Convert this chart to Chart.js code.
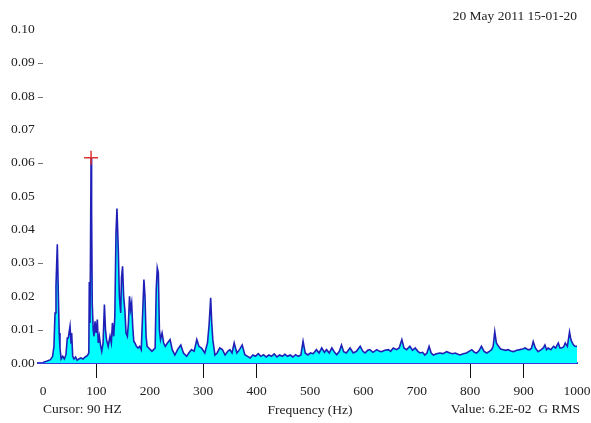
<!DOCTYPE html>
<html>
<head>
<meta charset="utf-8">
<script src="https://cdn.jsdelivr.net/npm/chart.js@4.4.1/dist/chart.umd.min.js"></script>
<style>
  html, body { margin: 0; padding: 0; background: #ffffff; }
  #wrap { width: 591px; height: 423px; position: relative; }
</style>
</head>
<body>
<div id="wrap"><canvas id="c" width="591" height="423"></canvas></div>
<script>
// ---- data ----
const freqHz = [0,8,14,18,20.5,22.5,24.3,26.8,28.7,30.3,31.8,34,37,40,43,45.5,47.4,50.6,52.5,53.7,55.6,58,61,64,67,71,75,79,83,85.8,86.7,88,89,90,91,92.2,94,95.5,97.4,99.5,101.7,103.5,105.5,108,110,112.5,115,117,119,122,125.5,128,130,132.5,134.5,136.7,138.5,141,143,145.5,147,149,151,153.5,155.5,158,160,162,164,166,168,170,172,175,178,181,184,187,189,191,193,195,198,201,204,207,210,212,214,216,218,220,223,226,229,233,238,242,247,252,258,263,269,273,278,283,288,292,297,303,308,311,314,316,318,322,326,331,336,341,346,350,354,358,363,368,373,378,383,388,393,398,403,408,413,418,423,428,433,438,443,448,453,458,463,468,473,478,483,487,491,496,501,506,512,517,522,527,531,536,541,546,550,555,559,563,568,575,581,587,594,599,603,608,612,618,625,630,634,640,647,651,656,662,667,672,676,681,687,692,697,702,706,711,715,719,723,727,731,737,743,749,756,762,767,772,777,781,787,793,798,803,808,812,817,821,826,831,836,840,843,846,849,853,857,862,866,871,876,881,887,893,898,903,908,912,915,918,922,927,933,937,940,943,946,951,956,960,965,968,971,975,978,982,986,988,990,993,996,1000];
const amplitudeG = [0.0002,0.0006,0.001,0.002,0.005,0.015,0.023,0.0356,0.021,0.009,0.0045,0.0012,0.002,0.0012,0.0025,0.0075,0.0075,0.011,0.006,0.009,0.002,0.0012,0.0018,0.0008,0.0012,0.0015,0.0012,0.0018,0.0022,0.003,0.0243,0.012,0.035,0.0615,0.046,0.018,0.010,0.008,0.0125,0.009,0.013,0.006,0.008,0.005,0.0035,0.006,0.0175,0.01,0.007,0.005,0.008,0.006,0.012,0.008,0.014,0.039,0.0463,0.034,0.02,0.015,0.0255,0.029,0.02,0.0154,0.009,0.008,0.012,0.020,0.016,0.018,0.011,0.0065,0.006,0.005,0.0045,0.005,0.004,0.0165,0.025,0.02,0.008,0.005,0.0045,0.004,0.0035,0.004,0.0045,0.022,0.0285,0.027,0.01,0.007,0.009,0.006,0.005,0.006,0.007,0.004,0.0024,0.004,0.0054,0.003,0.002,0.003,0.004,0.0035,0.007,0.005,0.0045,0.003,0.006,0.0114,0.0195,0.012,0.007,0.0024,0.003,0.0045,0.004,0.0024,0.0035,0.004,0.003,0.006,0.003,0.004,0.0054,0.0025,0.002,0.0015,0.0024,0.002,0.0028,0.002,0.0025,0.0018,0.0024,0.002,0.0027,0.0018,0.0024,0.002,0.0026,0.002,0.0024,0.0018,0.0025,0.002,0.0024,0.0065,0.003,0.0024,0.003,0.0028,0.004,0.003,0.0045,0.0032,0.004,0.003,0.0045,0.0032,0.0025,0.0035,0.0054,0.0034,0.003,0.0045,0.003,0.0035,0.005,0.0035,0.003,0.0038,0.004,0.0032,0.004,0.0035,0.0034,0.0038,0.004,0.0035,0.0045,0.004,0.0045,0.007,0.0045,0.004,0.005,0.0038,0.0045,0.0035,0.003,0.0032,0.0024,0.003,0.005,0.003,0.0024,0.0028,0.003,0.0028,0.0034,0.003,0.0028,0.003,0.0026,0.0024,0.0028,0.003,0.0035,0.004,0.0032,0.003,0.0038,0.005,0.0035,0.003,0.0035,0.004,0.005,0.0094,0.006,0.005,0.0042,0.004,0.0038,0.004,0.0036,0.0034,0.0038,0.004,0.0042,0.0045,0.004,0.004,0.0045,0.0064,0.0045,0.0034,0.004,0.0045,0.0054,0.004,0.0045,0.004,0.005,0.0045,0.006,0.0045,0.0045,0.0048,0.006,0.005,0.0093,0.0075,0.0064,0.0055,0.005,0.005];
const cursorHz = [90];
const cursorValue = [0.0615];
const yTickLabels = ['0.00','0.01 \u2013','0.02','0.03 \u2013','0.04','0.05','0.06 \u2013','0.07','0.08 \u2013','0.09 \u2013','0.10'];
const xTickLabels = ['0','100','200','300','400','500','600','700','800','900','1000'];
const markedXTicks = [100, 300, 400, 800, 900];
const dateText = '20 May 2011 15-01-20';
const cursorText = 'Cursor: 90 HZ';
const valueText = 'Value: 6.2E-02  G RMS';
const xAxisTitle = 'Frequency (Hz)';

const serif = 'Liberation Serif';

const spectrum = freqHz.map((f, i) => ({ x: f, y: amplitudeG[i] }));
const cursorPts = cursorHz.map((f, i) => ({ x: f, y: cursorValue[i] }));

const footerPlugin = {
  id: 'footerText',
  afterDraw(chart) {
    const ctx = chart.ctx;
    const a = chart.chartArea;
    const y0 = chart.scales.y.getPixelForValue(0);
    ctx.save();
    ctx.strokeStyle = '#3a3ad6';
    ctx.lineWidth = 2;
    ctx.beginPath();
    ctx.moveTo(a.left - 6, y0);
    ctx.lineTo(a.left, y0);
    ctx.stroke();
    ctx.fillStyle = '#222';
    ctx.font = '13.5px "' + serif + '"';
    ctx.textBaseline = 'middle';
    const yText = chart.height - 14;
    ctx.textAlign = 'left';
    ctx.fillText(cursorText, a.left, yText);
    ctx.textAlign = 'right';
    ctx.fillText(valueText, a.right + 3, yText);
    ctx.restore();
  }
};

new Chart(document.getElementById('c'), {
  type: 'line',
  data: {
    datasets: [
      {
        data: cursorPts,
        showLine: false,
        pointStyle: 'cross',
        pointRadius: 7,
        pointBorderColor: '#e03030',
        pointBorderWidth: 1.5,
        order: 0
      },
      {
        data: spectrum,
        borderColor: '#2020b8',
        borderWidth: 1.6,
        backgroundColor: '#00ffff',
        fill: 'origin',
        pointRadius: 0,
        tension: 0,
        order: 1
      }
    ]
  },
  options: {
    responsive: false,
    animation: false,
    layout: { padding: { left: 11, right: 14, top: 0, bottom: 0 } },
    plugins: {
      legend: { display: false },
      tooltip: { enabled: false },
      title: {
        display: true,
        text: dateText,
        align: 'end',
        color: '#222',
        font: { family: serif, size: 13.5, weight: 'normal' },
        padding: { top: 8, bottom: 5 }
      }
    },
    scales: {
      x: {
        type: 'linear',
        min: 0,
        max: 1000,
        afterFit: s => { s.height = 60; s.paddingRight = 0; s.paddingLeft = 0; },
        border: { display: true, color: '#3a3ad6', width: 2 },
        grid: {
          drawOnChartArea: false,
          drawTicks: true,
          tickLength: 15,
          tickWidth: 1,
          color: c => (c.tick && markedXTicks.includes(c.tick.value)) ? '#111' : 'rgba(0,0,0,0)'
        },
        ticks: {
          stepSize: 100,
          autoSkip: false,
          maxRotation: 0,
          padding: 5,
          color: '#222',
          font: { family: serif, size: 13.5 },
          callback: (v, i) => xTickLabels[i]
        },
        title: {
          display: true,
          text: xAxisTitle,
          color: '#222',
          font: { family: serif, size: 13.5 },
          padding: { top: 2, bottom: 4 }
        }
      },
      y: {
        min: 0,
        max: 0.1,
        afterFit: s => { s.width = 32; },
        border: { display: false },
        grid: { display: false, drawTicks: false },
        ticks: {
          stepSize: 0.01,
          crossAlign: 'far',
          color: '#222',
          font: { family: serif, size: 13.5 },
          callback: (v, i) => yTickLabels[i]
        }
      }
    }
  },
  plugins: [footerPlugin]
});
</script>
</body>
</html>
